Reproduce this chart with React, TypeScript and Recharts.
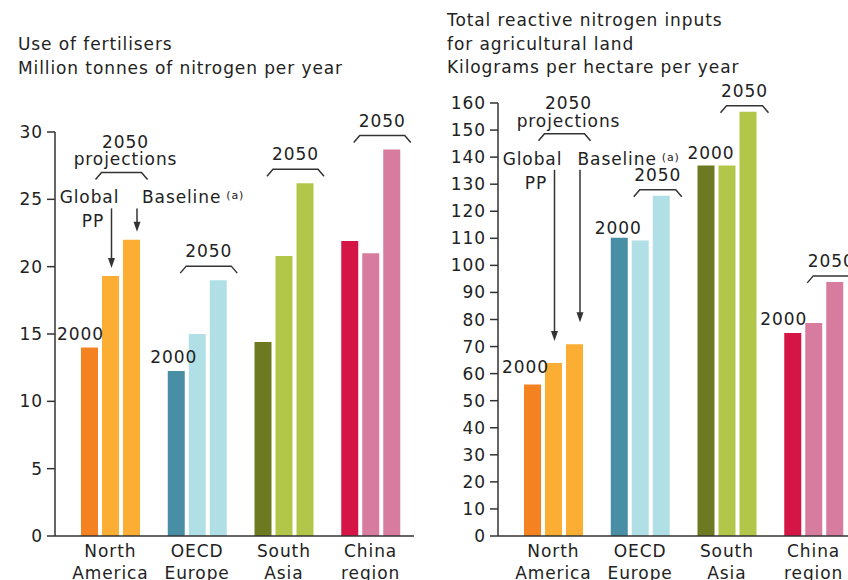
import { BarChart, Bar, XAxis, YAxis, Cell, LabelList } from 'recharts';

const categories = ['North America', 'OECD Europe', 'South Asia', 'China region'];

// left panel: use of fertilisers, million tonnes N per year
const fert2000 = [14.0, 12.25, 14.4, 21.9];
const fertGlobalPP = [19.3, 15.0, 20.8, 21.0];
const fertBaseline = [22.0, 19.0, 26.2, 28.7];
const fertTicks = [0, 5, 10, 15, 20, 25, 30];

// right panel: total reactive N inputs, kg per hectare per year
const nitro2000 = [56, 110.2, 136.9, 75];
const nitroGlobalPP = [63.9, 109.2, 136.9, 78.7];
const nitroBaseline = [70.9, 125.7, 156.8, 93.9];
const nitroTicks = [0, 10, 20, 30, 40, 50, 60, 70, 80, 90, 100, 110, 120, 130, 140, 150, 160];

const darkColors = ['#f58220', '#488fa6', '#6e7a21', '#d51546'];
const lightColors = ['#fbae33', '#b0e0e6', '#b2c74a', '#d77c9e'];

const INK = '#222';
const LINE = '#333';
const GAP = 4;

const makeData = (a: number[], b: number[], c: number[]) =>
  categories.map((name, i) => ({ name, y2000: a[i], pp: b[i], baseline: c[i] }));

type Cfg = {
  label2000: number[];
  label2000Dx: number[];
  label2000Dy: number[];
  bracketGap: number;
  bracketWidth: number;
  bracketShift: number;
  naLevel: number;
  tipGap: number;
  baselineDx: number;
};

const box = (p: any) => {
  const vb = p.viewBox && p.viewBox.width != null ? p.viewBox : p;
  return { x: Number(vb.x), y: Number(vb.y), w: Number(vb.width), h: Number(vb.height) };
};

const Arrow = ({ x, y1, y2 }: { x: number; y1: number; y2: number }) => (
  <g>
    <line x1={x} y1={y1} x2={x} y2={y2 - 6} stroke={LINE} strokeWidth={1.5} />
    <path d={`M${x - 3.5},${y2 - 10} L${x + 3.5},${y2 - 10} L${x},${y2} Z`} fill={LINE} />
  </g>
);

const Bracket = ({ x0, x1, y }: { x0: number; x1: number; y: number }) => (
  <path
    d={`M${x0},${y + 7} L${x0 + 6},${y} L${x1 - 6},${y} L${x1},${y + 7}`}
    fill="none"
    stroke={LINE}
    strokeWidth={1.5}
  />
);

const CategoryTick = (props: any) => {
  const { x, y, payload } = props;
  const lines = String(payload.value).split(' ');
  return (
    <text x={x} y={y} textAnchor="middle" fill={INK} fontSize={17}>
      {lines.map((l, i) => (
        <tspan key={i} x={x} dy={i === 0 ? 21 : 21.5}>
          {l}
        </tspan>
      ))}
    </text>
  );
};

function Panel({
  data,
  ticks,
  top,
  cfg,
}: {
  data: any[];
  ticks: number[];
  top: number;
  cfg: Cfg;
}) {
  const max = ticks[ticks.length - 1];

  const label2000 = (p: any) => {
    if (!cfg.label2000.includes(p.index)) return null;
    const { x, y, w } = box(p);
    return (
      <text
        x={x + w / 2 + cfg.label2000Dx[p.index]}
        y={y - cfg.label2000Dy[p.index] + 6}
        textAnchor="middle"
        fill={INK}
        fontSize={17}
      >
        2000
      </text>
    );
  };

  const labelPP = (p: any) => {
    if (p.index !== 0) return null;
    const { x, y, w, h } = box(p);
    const ppu = h / Number(p.value);
    const level = y + h - cfg.naLevel * ppu;
    const cx = x + w / 2;
    return (
      <g>
        <text x={cx - 21} y={level + 31} textAnchor="middle" fill={INK} fontSize={17}>
          Global
        </text>
        <text x={cx - 17.5} y={level + 55} textAnchor="middle" fill={INK} fontSize={17}>
          PP
        </text>
        <Arrow x={cx + 1} y1={level + 36} y2={y - cfg.tipGap} />
      </g>
    );
  };

  const labelBaseline = (p: any) => {
    const { x, y, w, h } = box(p);
    if (p.index === 0) {
      const ppu = h / Number(p.value);
      const level = y + h - cfg.naLevel * ppu;
      const cx = x + w / 2;
      return (
        <g>
          <text x={cx - 6} y={level - 24.5} textAnchor="middle" fill={INK} fontSize={17}>
            2050
          </text>
          <text x={cx - 6} y={level - 7} textAnchor="middle" fill={INK} fontSize={17}>
            projections
          </text>
          <Bracket x0={cx - 36} x1={cx + 16} y={level} />
          <text x={cx + cfg.baselineDx} y={level + 31} fill={INK} fontSize={17}>
            Baseline
            <tspan fontSize={11} dx={5} dy={-4}>
              (a)
            </tspan>
          </text>
          <Arrow x={cx + 5.5} y1={level + 36} y2={y - cfg.tipGap} />
        </g>
      );
    }
    const c = x - GAP / 2 + cfg.bracketShift;
    const by = y - cfg.bracketGap;
    return (
      <g>
        <Bracket x0={c - cfg.bracketWidth / 2} x1={c + cfg.bracketWidth / 2} y={by} />
        <text x={c} y={by - 9} textAnchor="middle" fill={INK} fontSize={17}>
          2050
        </text>
      </g>
    );
  };

  return (
    <BarChart
      width={414}
      height={580}
      data={data}
      margin={{ top, right: 0, bottom: 0, left: 0 }}
      barSize={17}
      barGap={GAP}
    >
      <XAxis
        dataKey="name"
        height={44}
        padding={{ left: 12, right: 0 }}
        tickLine={false}
        tickSize={0}
        tickMargin={0}
        axisLine={{ stroke: LINE, strokeWidth: 1.5 }}
        tick={<CategoryTick />}
        interval={0}
      />
      <YAxis
        width={55}
        domain={[0, max]}
        ticks={ticks}
        interval={0}
        tickSize={8}
        tickMargin={4}
        axisLine={{ stroke: LINE, strokeWidth: 1.5 }}
        tickLine={{ stroke: LINE, strokeWidth: 1.5 }}
        tick={{ fill: INK, fontSize: 17 }}
      />
      <Bar dataKey="y2000" isAnimationActive={false}>
        {data.map((_, i) => (
          <Cell key={i} fill={darkColors[i]} />
        ))}
        <LabelList dataKey="y2000" content={label2000} />
      </Bar>
      <Bar dataKey="pp" isAnimationActive={false}>
        {data.map((_, i) => (
          <Cell key={i} fill={lightColors[i]} />
        ))}
        <LabelList dataKey="pp" content={labelPP} />
      </Bar>
      <Bar dataKey="baseline" isAnimationActive={false}>
        {data.map((_, i) => (
          <Cell key={i} fill={lightColors[i]} />
        ))}
        <LabelList dataKey="baseline" content={labelBaseline} />
      </Bar>
    </BarChart>
  );
}

const titleStyle: React.CSSProperties = {
  position: 'absolute',
  lineHeight: '23.5px',
  whiteSpace: 'nowrap',
};

export default function App() {
  const fertData = makeData(fert2000, fertGlobalPP, fertBaseline);
  const nitroData = makeData(nitro2000, nitroGlobalPP, nitroBaseline);

  return (
    <div
      style={{
        position: 'fixed',
        left: 0,
        top: 0,
        width: 848,
        height: 580,
        overflow: 'hidden',
        background: '#fff',
        color: INK,
        fontFamily: '"DejaVu Sans", Verdana, sans-serif',
        fontSize: 17,
        letterSpacing: '0.9px',
      }}
    >
      <div style={{ ...titleStyle, left: 18, top: 33 }}>
        Use of fertilisers
        <br />
        Million tonnes of nitrogen per year
      </div>
      <div style={{ ...titleStyle, left: 447, top: 9 }}>
        Total reactive nitrogen inputs
        <br />
        for agricultural land
        <br />
        Kilograms per hectare per year
      </div>

      <div style={{ position: 'absolute', left: 0, top: 0 }}>
        <Panel
          data={fertData}
          ticks={fertTicks}
          top={132}
          cfg={{
            label2000: [0, 1],
            label2000Dx: [-9, -2.5, 0, 0],
            label2000Dy: [13, 14, 13, 13],
            bracketGap: 14,
            bracketWidth: 57,
            bracketShift: 1,
            naLevel: 27,
            tipGap: 8,
            baselineDx: 10.5,
          }}
        />
      </div>
      <div style={{ position: 'absolute', left: 443, top: 0 }}>
        <Panel
          data={nitroData}
          ticks={nitroTicks}
          top={103}
          cfg={{
            label2000: [0, 1, 2, 3],
            label2000Dx: [-7, -1, 5, -9],
            label2000Dy: [17, 10, 13, 14],
            bracketGap: 6,
            bracketWidth: 48,
            bracketShift: 7,
            naLevel: 148.6,
            tipGap: 22,
            baselineDx: 3,
          }}
        />
      </div>
    </div>
  );
}
